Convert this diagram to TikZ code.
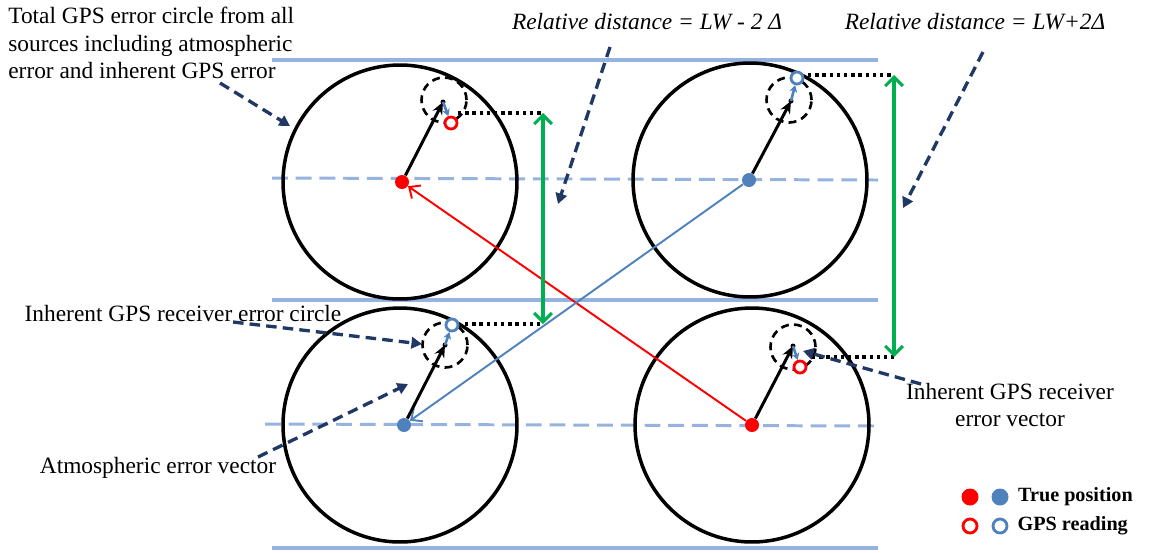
\documentclass[tikz,border=0pt]{standalone}
\usepackage{fontspec}
\setmainfont{Liberation Serif}
\usepackage{tikz}
\usetikzlibrary{positioning, arrows.meta}

\definecolor{laneblue}{RGB}{149,179,222}
\definecolor{ptblue}{RGB}{79,129,189}
\definecolor{navy}{RGB}{31,56,100}
\definecolor{gpsgreen}{RGB}{0,176,80}
\newcommand{\lblfont}{\fontsize{13.3}{15.6}\selectfont}
\newcommand{\legfont}{\fontsize{11.5}{13}\selectfont\bfseries}

\begin{document}
\begin{tikzpicture}[x=0.02cm, y=-0.02cm, every node/.style={font=\lblfont},
    lane/.style={draw=laneblue, line width=2pt},
    midline/.style={draw=laneblue, line width=1.7pt, dash pattern=on 9pt off 4.5pt},
    errcircle/.style={draw, circle, line width=2pt, minimum size=4.68cm, inner sep=0},
    inhcircle/.style={draw, circle, line width=1.5pt, dash pattern=on 4.5pt off 3pt, minimum size=0.9cm, inner sep=0},
    truepos/.style={circle, inner sep=0, minimum size=0.28cm},
    gpsread/.style={circle, inner sep=0, minimum size=0.24cm, line width=1.6pt, fill=white},
    vec/.style={-{Stealth[length=7pt, width=6pt]}, line width=1.7pt},
    smallvec/.style={-{Stealth[length=4pt, width=4.5pt]}, draw=ptblue, line width=1.5pt},
    longvec/.style={-{Straight Barb[length=5pt, width=9pt]}, line width=1.1pt},
    gap/.style={line width=1.9pt, dash pattern=on 1.9pt off 2.2pt},
    reldist/.style={{Straight Barb[length=5pt, width=10pt]}-{Straight Barb[length=5pt, width=10pt]}, draw=gpsgreen, line width=1.8pt},
    callout/.style={-{Triangle[length=6pt, width=6.5pt]}, draw=navy, line width=1.9pt, dash pattern=on 6pt off 3.5pt}]
    \useasboundingbox (0,0) rectangle (1158,552);

    % lane borders and lane centres
    \draw[lane] (272,60) -- (878,60);
    \draw[lane] (272,300) -- (878,300);
    \draw[lane] (272,548) -- (878,548);
    \draw[midline] (272,178) -- (878,180);
    \draw[midline] (265,424) -- (878,426);

    % total error circles
    \node[errcircle] (c1) at (400,182) {};
    \node[errcircle] (c2) at (750,180) {};
    \node[errcircle] (c3) at (400,425) {};
    \node[errcircle] (c4) at (752,425) {};

    % true positions
    \node[truepos, fill=red] (t1) at (402,182) {};
    \node[truepos, fill=ptblue] (t2) at (749,180) {};
    \node[truepos, fill=ptblue] (t3) at (404,425) {};
    \node[truepos, fill=red] (t4) at (752,425) {};

    % long vectors between vehicles
    \draw[longvec, red] (t4) -- (t1);
    \draw[longvec, ptblue] (t2) -- (t3);

    % inherent receiver error circles
    \coordinate (e1) at (443,102);
    \coordinate (e2) at (791,101);
    \coordinate (e3) at (445,345);
    \coordinate (e4) at (793,346);
    \node[inhcircle] (i1) at (444,100) {};
    \node[inhcircle] (i2) at (789,100) {};
    \node[inhcircle] (i3) at (445,345) {};
    \node[inhcircle] (i4) at (793,347) {};

    % GPS readings
    \node[gpsread, draw=red] (g1) at (451,123) {};
    \node[gpsread, draw=ptblue] (g2) at (797,78) {};
    \node[gpsread, draw=ptblue] (g3) at (452,325) {};
    \node[gpsread, draw=red] (g4) at (800,367) {};

    \draw[vec] (t1) -- (e1);
    \draw[vec] (t2) -- (e2);
    \draw[vec] (t3) -- (e3);
    \draw[vec] (t4) -- (e4);
    \fill (e1) circle (2.5);
    \fill (e2) circle (2.5);
    \fill (e3) circle (2.5);
    \fill (e4) circle (2.5);
    \draw[smallvec] (e1) -- (g1);
    \draw[smallvec] (e2) -- (g2);
    \draw[smallvec] (e3) -- (g3);
    \draw[smallvec] (e4) -- (g4);

    % relative distances
    \coordinate (d1) at (458,113);
    \coordinate (r1) at (543,113);
    \coordinate (d2) at (808,75);
    \coordinate (r2) at (894,75);
    \coordinate (d3) at (465,324);
    \coordinate (r3) at (543,324);
    \coordinate (d4) at (812,357);
    \coordinate (r4) at (894,357);
    \draw[gap] (d1) -- (r1);
    \draw[gap] (d2) -- (r2);
    \draw[gap] (d3) -- (r3);
    \draw[gap] (d4) -- (r4);
    \draw[reldist] (r1) -- (r3);
    \draw[reldist] (r2) -- (r4);

    % labels
    \node[anchor=north west, align=left, inner sep=0] (ltotal) at (8,7) {Total GPS error circle from all\\sources including atmospheric\\error and inherent GPS error};
    \node[font=\lblfont\itshape] (lminus) at (647,22) {Relative distance = LW - 2 Δ};
    \node[font=\lblfont\itshape] (lplus) at (975,22) {Relative distance = LW+2Δ};
    \node (lcircle) at (183,313) {Inherent GPS receiver error circle};
    \node (latmos) at (158,468) {Atmospheric error vector};
    \node[align=center] (lvector) at (1010,405) {Inherent GPS receiver\\error vector};

    % callouts
    \coordinate (a1) at (220,83);
    \coordinate (b1) at (290,126);
    \coordinate (a2) at (610,47);
    \coordinate (b2) at (558,204);
    \coordinate (a3) at (983,52);
    \coordinate (b3) at (903,208);
    \coordinate (a4) at (233,322);
    \coordinate (b4) at (422,344);
    \coordinate (a5) at (258,457);
    \coordinate (b5) at (408,384);
    \coordinate (a6) at (921,384);
    \coordinate (b6) at (803,351);
    \draw[callout] (a1) -- (b1);
    \draw[callout] (a2) -- (b2);
    \draw[callout] (a3) -- (b3);
    \draw[callout] (a4) -- (b4);
    \draw[callout] (a5) -- (b5);
    \draw[callout] (a6) -- (b6);

    % legend
    \node[truepos, fill=red, minimum size=0.34cm] (kr) at (970,497) {};
    \node[truepos, fill=ptblue, minimum size=0.34cm] (kb) at (1000,497) {};
    \node[font=\legfont, right=0.06cm of kb] (ktrue) {True position};
    \node[gpsread, draw=red, minimum size=0.28cm] (kor) at (970,526) {};
    \node[gpsread, draw=ptblue, minimum size=0.28cm] (kob) at (1000,526) {};
    \node[font=\legfont, right=0.06cm of kob] (kgps) {GPS reading};
\end{tikzpicture}
\end{document}
